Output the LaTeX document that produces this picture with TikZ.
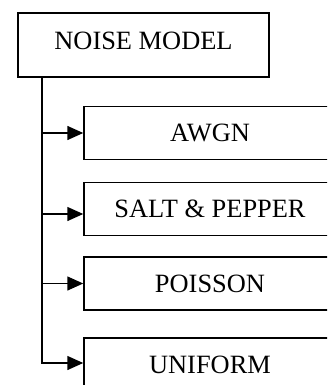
\documentclass[tikz,border=0pt]{standalone}
\usepackage{fontspec}
\setmainfont{Liberation Serif}
\usetikzlibrary{arrows.meta}

\tikzset{
  boxstyle/.style={draw=black, line width=1.5pt, rectangle, inner sep=0pt,
    font=\fontsize{26.4}{30}\selectfont},
  rootbox/.style={boxstyle, minimum width=251pt, minimum height=64pt,
    text depth=8pt},
  leafbox/.style={boxstyle, minimum width=252pt, minimum height=53pt},
  branch/.style={draw=black, line width=1.5pt,
    -{Triangle[length=16pt, width=14pt]}},
  trunk/.style={draw=black, line width=1.5pt}
}

\begin{document}
\begin{tikzpicture}[x=1pt, y=1pt]
  % page frame
  \useasboundingbox (0,0) rectangle (327,-385);
  \clip (0,0) rectangle (327,-385);

  % root node
  \node[rootbox] (root) at (143.5,-45) {NOISE MODEL};

  % noise types
  \node[leafbox] (awgn)    at (210,-133)   {AWGN};
  \node[leafbox] (salt)    at (210,-209)   {SALT \& PEPPER};
  \node[leafbox] (poisson) at (210,-283.5) {POISSON};
  \node[leafbox] (uniform) at (210,-364.5) {UNIFORM};

  % trunk leaves the root's lower edge near its left side
  \coordinate (spine) at ([xshift=24.5pt]root.south west);

  % branches
  \draw[branch] (spine |- awgn.west) -- (awgn.west);
  \draw[branch] (spine |- salt.west) ++(0,-5) -- ([yshift=-5pt]salt.west);
  \draw[branch] (spine |- poisson.west) -- (poisson.west);
  \draw[branch] (spine) |- ([yshift=1.5pt]uniform.west);
\end{tikzpicture}
\end{document}
